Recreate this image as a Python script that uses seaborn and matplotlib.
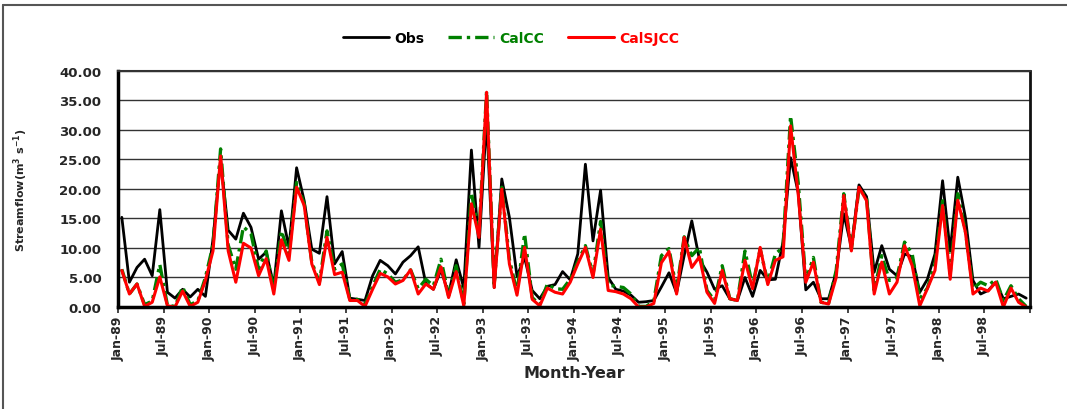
import numpy as np
import pandas as pd
import matplotlib
matplotlib.use("Agg")
import matplotlib.pyplot as plt
from matplotlib.lines import Line2D
import seaborn as sns

# monthly streamflow, Jan-89 .. Dec-98 (120 months)
obs = [15.2, 4.2, 6.7, 8.1, 5.3, 16.5, 2.5, 1.5, 3.0, 1.7, 3.0, 1.8,
       11.5, 25.0, 13.0, 11.5, 15.9, 13.5, 8.1, 9.3, 3.6, 16.3, 10.1, 23.6,
       18.0, 9.8, 9.1, 18.7, 7.3, 9.4, 1.5, 1.3, 1.1, 5.3, 7.9, 7.0,
       5.6, 7.6, 8.7, 10.2, 4.0, 3.0, 6.3, 2.2, 8.0, 3.2, 26.6, 10.1,
       32.0, 3.3, 21.7, 15.2, 5.2, 8.4, 2.8, 1.4, 3.5, 3.8, 6.0, 4.6,
       9.0, 24.2, 11.2, 19.8, 5.0, 3.0, 2.7, 2.0, 0.8, 0.9, 1.1, 3.4,
       5.8, 2.4, 8.7, 14.6, 8.1, 5.9, 3.0, 3.6, 1.4, 1.1, 5.0, 1.8,
       6.2, 4.6, 4.7, 11.0, 25.3, 19.4, 2.9, 4.2, 1.4, 1.4, 5.9, 15.8,
       10.1, 20.7, 18.7, 5.9, 10.4, 6.4, 5.3, 9.0, 8.5, 2.5, 4.7, 9.0,
       21.4, 9.5, 22.0, 15.2, 4.5, 2.2, 2.8, 4.2, 1.4, 1.8, 2.2, 1.5]

cal_cc = [6.4, 2.2, 3.9, 0.4, 1.0, 7.2, 0.3, 0.1, 3.4, 0.4, 1.0, 5.0,
          10.5, 26.8, 10.5, 6.4, 13.6, 12.4, 6.4, 9.5, 2.8, 12.9, 9.0, 21.1,
          17.5, 7.6, 4.2, 12.9, 6.4, 7.3, 1.3, 1.3, 0.4, 3.5, 6.4, 5.6,
          4.2, 4.6, 6.3, 3.1, 4.7, 3.6, 8.1, 1.9, 7.0, 0.5, 19.4, 12.4,
          36.6, 3.9, 20.3, 8.1, 2.5, 12.4, 1.6, 0.4, 3.9, 3.1, 3.0, 4.7,
          7.7, 10.4, 5.5, 14.5, 3.7, 3.5, 3.3, 2.2, 0.1, 0.1, 1.0, 8.7,
          9.9, 2.9, 11.9, 8.7, 10.1, 2.8, 1.1, 7.0, 1.4, 1.1, 9.5, 3.6,
          9.8, 4.2, 9.0, 10.1, 32.4, 21.1, 4.5, 8.4, 0.8, 0.6, 6.2, 19.2,
          9.8, 20.0, 18.6, 2.8, 8.7, 4.5, 5.0, 11.0, 9.0, 1.4, 3.2, 7.3,
          18.0, 5.6, 19.2, 12.9, 3.1, 4.2, 3.6, 4.7, 1.1, 3.6, 1.4, 0.1]

cal_sjcc = [6.2, 2.2, 3.9, 0.1, 0.8, 5.1, 0.2, 0.0, 2.7, 0.1, 0.8, 4.5,
            9.5, 25.6, 9.5, 4.2, 10.8, 10.0, 5.3, 8.2, 2.2, 11.4, 7.9, 20.3,
            17.2, 7.3, 3.8, 11.8, 5.5, 5.9, 1.1, 1.1, 0.1, 3.0, 5.7, 5.1,
            3.9, 4.5, 6.3, 2.2, 3.9, 3.0, 6.8, 1.6, 6.0, 0.2, 17.5, 11.8,
            36.4, 3.3, 20.0, 7.3, 2.0, 10.1, 1.3, 0.2, 3.2, 2.5, 2.2, 4.2,
            7.3, 10.1, 5.0, 13.2, 2.8, 2.6, 2.2, 1.4, 0.0, 0.0, 0.6, 7.5,
            9.4, 2.2, 11.8, 6.7, 8.5, 2.5, 0.6, 6.2, 1.4, 1.1, 7.9, 3.1,
            10.1, 3.8, 7.9, 8.5, 30.7, 19.2, 4.2, 7.6, 0.8, 0.5, 5.0, 18.9,
            9.5, 20.3, 18.0, 2.2, 7.6, 2.2, 4.2, 10.4, 7.0, 0.2, 3.1, 6.2,
            17.2, 4.7, 18.1, 12.7, 2.2, 3.2, 2.7, 4.2, 0.0, 3.2, 0.8, 0.0]

months = pd.date_range("1989-01-01", periods=len(obs), freq="MS")
tick_labels = [d.strftime("%b-%y") for d in months[::6]]

series_names = ["Obs", "CalCC", "CalSJCC"]
series_colors = ["black", "#008000", "#ff0000"]

df = pd.DataFrame({"idx": np.arange(len(obs)), "Obs": obs,
                   "CalCC": cal_cc, "CalSJCC": cal_sjcc})

sns.set_style("white")
plt.rcParams["font.family"] = ["DejaVu Sans"]

fig = plt.figure(figsize=(10.67, 4.10), dpi=100)
ax = fig.add_axes([0.1106, 0.2488, 0.8547, 0.5756])

styles = {
    "Obs": dict(linestyle="-", linewidth=2.0),
    "CalCC": dict(linestyle=(0, (4, 1.5, 1, 1.5)), linewidth=2.4),
    "CalSJCC": dict(linestyle="-", linewidth=2.2),
}
for name, col in zip(series_names, series_colors):
    sns.lineplot(data=df, x="idx", y=name, color=col, label=name, ax=ax,
                 **styles[name])
if ax.get_legend() is not None:
    ax.get_legend().remove()

ax.set_xlim(-0.5, len(obs) - 0.5)
ax.set_ylim(0, 40)
ax.set_yticks(np.arange(0, 41, 5))
ax.set_yticklabels([f"{v:.2f}" for v in np.arange(0, 41, 5)],
                   fontsize=9.5, fontweight="bold")
xt = np.arange(-0.5, len(obs), 6)
ax.set_xticks(xt)
ax.set_xticklabels(tick_labels + [""] * (len(xt) - len(tick_labels)),
                   rotation=90, fontsize=9, fontweight="bold")
ax.tick_params(axis="x", length=4, width=1.2, direction="out", pad=2,
               bottom=True)
ax.tick_params(axis="y", length=0, pad=12)

ax.yaxis.grid(True, color="#333333", linewidth=1)
ax.xaxis.grid(False)
ax.set_axisbelow(True)
for s in ["left", "bottom"]:
    ax.spines[s].set_linewidth(2.5)
    ax.spines[s].set_color("black")
ax.spines["right"].set_linewidth(2)
ax.spines["right"].set_color("#111111")
ax.spines["top"].set_linewidth(1.5)
ax.spines["top"].set_color("#333333")

ax.set_xlabel("Month-Year", fontsize=11.5, fontweight="bold")
ax.xaxis.set_label_coords(0.5, -0.245)
ax.set_ylabel("Streamflow(m$^{\\mathbf{3}}$ s$^{\\mathbf{-1}}$)", fontsize=8,
              fontweight="bold")
ax.yaxis.set_label_coords(-0.096, 0.5)

handles = [Line2D([], [], color=c, **styles[n]) for n, c in
           zip(series_names, series_colors)]
leg = fig.legend(handles, series_names, loc="center",
                 bbox_to_anchor=(0.479, 0.905), ncol=3, frameon=False,
                 prop={"weight": "bold", "size": 10}, handlelength=3.3,
                 handletextpad=0.4, columnspacing=1.7)
for txt, col in zip(leg.get_texts(), series_colors):
    txt.set_color(col)

# chart-area frame (only top and left edges are visible)
fig.add_artist(Line2D([3 / 1067, 3 / 1067], [0, 1 - 6 / 410],
                      color="#555555", linewidth=1.5,
                      transform=fig.transFigure))
fig.add_artist(Line2D([3 / 1067, 1], [1 - 6 / 410, 1 - 6 / 410],
                      color="#555555", linewidth=1.5,
                      transform=fig.transFigure))

fig.savefig("out.png", dpi=100)
plt.close(fig)
